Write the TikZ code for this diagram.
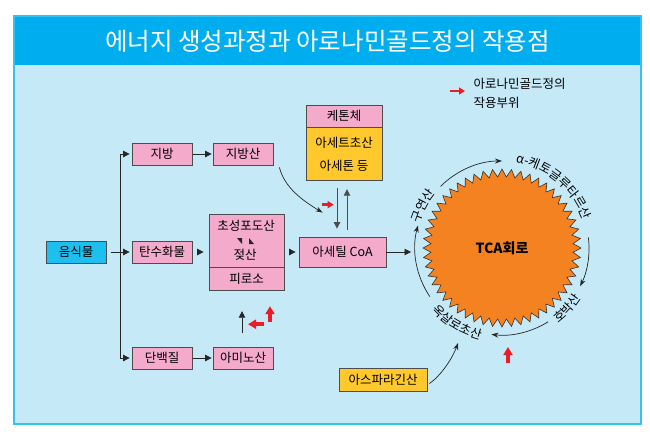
\documentclass[tikz,border=0pt]{standalone}
\usepackage{fontspec}
\setmainfont{Noto Sans CJK KR}
\usetikzlibrary{arrows.meta}
\usetikzlibrary{calc}
\usetikzlibrary{shapes.geometric}
\usetikzlibrary{decorations.text}

\definecolor{titlebar}{HTML}{00AEEF}
\definecolor{panel}{HTML}{C6E9F8}
\definecolor{panelrule}{HTML}{33C3F2}
\definecolor{boxpink}{HTML}{F4AACB}
\definecolor{boxyellow}{HTML}{FFC82C}
\definecolor{boxcyan}{HTML}{1DBFEF}
\definecolor{tcaorange}{HTML}{F58220}
\definecolor{sitered}{HTML}{ED1C24}

\begin{document}
\begin{tikzpicture}[x=1pt, y=-1pt,
  box/.style={draw=black!70, line width=.8pt, fill=boxpink, minimum width=60pt, minimum height=22pt, inner sep=0pt, font=\fontsize{12.5}{14}\selectfont},
  flow/.style={black!85, line width=.8pt, -{Triangle[length=6.5pt,width=6.5pt]}},
  ring/.style={black!85, line width=.7pt, -{Stealth[length=7pt,width=5pt]}},
  site/.style={sitered, line width=3.5pt, -{Triangle[length=8pt,width=9pt]}},
  smallsite/.style={sitered, line width=2.8pt, -{Triangle[length=6pt,width=7pt]}},
  arclabel/.style={decorate, decoration={text along path, text align=center, text={|\fontsize{12.5}{13}\selectfont|#1}}}]
\useasboundingbox (0,0) rectangle (650,437);
\fill[panel] (14,16) rectangle (641,424);
\fill[titlebar] (14,16) rectangle (641,65);
\draw[panelrule, line width=1.2pt] (14,16) rectangle (641,424);
\node[white, font=\fontsize{24.5}{27}\selectfont] (title) at (327.5,41) {에너지 생성과정과 아로나민골드정의 작용점};

\node[box, fill=boxcyan] (food) at (76,252) {음식물};
\node[box] (fat) at (162,154) {지방};
\node[box] (fattyacid) at (243,154) {지방산};
\node[box] (carb) at (162,252) {탄수화물};
\node[box] (protein) at (162,358) {단백질};
\node[box] (amino) at (243,358) {아미노산};
\node[box, minimum width=75pt, minimum height=53pt] (glyco) at (246.5,240.5) {};
\node[box, minimum width=75pt, minimum height=23pt, anchor=north] (piroso) at (glyco.south) {피로소};
\node[font=\fontsize{12.5}{14}\selectfont] (pyr) at (246,226) {초성포도산};
\node[font=\fontsize{12.5}{14}\selectfont] (lac) at (245,255) {젖산};
\fill[black!85] (237,238) -- (242,238) -- (242,244) -- cycle;
\fill[black!85] (249,238) -- (249,244) -- (254,244) -- cycle;
\node[box, minimum width=87pt, minimum height=30pt] (acetyl) at (342.5,252) {아세틸 CoA};
\node[box, minimum width=76pt] (ketone) at (344,116) {케톤체};
\node[box, fill=boxyellow, minimum width=76pt, minimum height=53pt, anchor=north, align=center, font=\fontsize{12.5}{23}\selectfont] (ketbody) at (ketone.south) {아세트초산\\아세톤 등};
\node[box, fill=boxyellow, minimum width=88pt, minimum height=23pt] (asp) at (383,379.5) {아스파라긴산};
\node[star, star points=52, star point ratio=1.11, minimum size=158pt, inner sep=0pt, draw=black!80, line width=.6pt, fill=tcaorange, font=\bfseries\fontsize{14}{15}\selectfont] (tca) at (502,248) {TCA회로};
\node[anchor=north west, align=left, font=\fontsize{12.5}{19}\selectfont] (legend) at (470,75) {아로나민골드정의\\작용부위};

\coordinate (split) at ($(food.east)+(14,0)$);
\coordinate (tcain) at ($(tca.center)+(-91,0)$);
\draw[black!85, line width=.8pt] ([xshift=5pt]food.east) -- (split);
\draw[flow, shorten >=2pt] (split) |- (fat);
\draw[flow, shorten >=2pt] (split) -- (carb);
\draw[flow, shorten >=2pt] (split) |- (protein);
\draw[flow, shorten <=1pt, shorten >=1pt] (fat) -- (fattyacid);
\draw[flow, shorten <=1pt, shorten >=1pt] (protein) -- (amino);
\draw[flow, shorten <=5pt, shorten >=5pt] (carb.east) -- (carb.east -| glyco.west);
\draw[flow, shorten <=5pt, shorten >=3pt] (glyco.east |- acetyl.west) -- (acetyl.west);
\draw[flow] (acetyl.east) -- (acetyl.east -| tcain);
\draw[flow, black!70] ($(ketbody.south)+(-7,7)$) -- ($(acetyl.north)+(-5.5,-8)$);
\draw[flow, black!70] ($(acetyl.north)+(4.5,-7)$) -- ($(ketbody.south)+(3,8)$);
\draw[ring] ($(fattyacid.south east)+(6,2)$) .. controls +(5,20) and +(-20,-12) .. ($(acetyl.north west)+(24,-24)$);
\draw[ring] ($(asp.east)+(2,4)$) .. controls +(12,-8) and +(-5,14) .. ($(tca.center)+(-44,95)$);
\draw[flow] ($(piroso.south)+(-4.5,42)$) -- ++(0,-22);

\begin{scope}[shift={(tca.center)}]
\draw[ring] (135:87pt) arc[start angle=135, end angle=90, radius=87pt];
\draw[ring] (7:87pt) arc[start angle=7, end angle=-26, radius=87pt];
\draw[ring] (-58:87pt) arc[start angle=-58, end angle=-97, radius=87pt];
\draw[ring] (214:87pt) arc[start angle=214, end angle=165, radius=87pt];
\path[arclabel={구연산}] (172:86pt) arc[start angle=172, end angle=132, radius=86pt];
\path[arclabel={α-케토글루타르산}] (92:86pt) arc[start angle=92, end angle=8, radius=86pt];
\path[arclabel={호박산}] (-62:94pt) arc[start angle=-62, end angle=-24, radius=94pt];
\path[arclabel={옥살로초산}] (-152:94pt) arc[start angle=-152, end angle=-90, radius=94pt];
\end{scope}

\draw[site] ($(piroso.south)+(17.5,33)$) -- ++(-16,0);
\draw[site] ($(piroso.south)+(23.5,31)$) -- ++(0,-16);
\draw[smallsite] ($(acetyl.north west)+(23,-32)$) -- ++(12,0);
\draw[site] ($(tca.center)+(6,115)$) -- ++(0,-16);
\draw[smallsite] ($(legend.north west)+(-20,16)$) -- ++(15,0);
\end{tikzpicture}
\end{document}
